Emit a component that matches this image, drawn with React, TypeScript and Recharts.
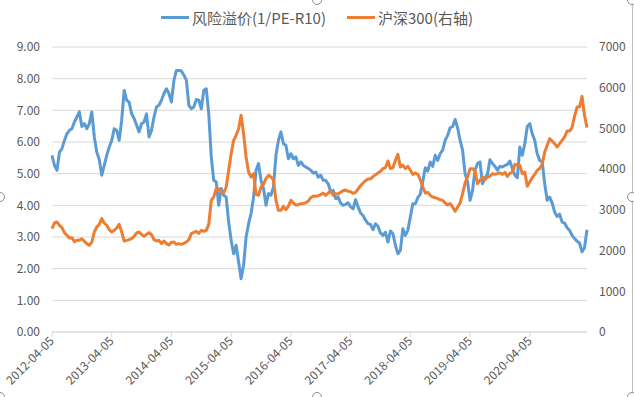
import { LineChart, Line, XAxis, YAxis, CartesianGrid, Legend } from 'recharts';

// semi-monthly sample dates, 2012-04 .. 2021-03
const dates: string[] = [];
for (let k = 0; k < 108; k++) {
  const y = 2012 + Math.floor((3 + k) / 12);
  const mm = String(((3 + k) % 12) + 1).padStart(2, '0');
  dates.push(`${y}-${mm}-05`, `${y}-${mm}-20`);
}

const yearTicks = [
  '2012-04-05', '2013-04-05', '2014-04-05', '2015-04-05', '2016-04-05',
  '2017-04-05', '2018-04-05', '2019-04-05', '2020-04-05',
];

const leftTicks = [0, 1, 2, 3, 4, 5, 6, 7, 8, 9];
const rightTicks = [0, 1000, 2000, 3000, 4000, 5000, 6000, 7000];

// 风险溢价 (1/PE-R10)
const riskPremium = [
  5.58, 5.26, 5.11, 5.68, 5.79, 6.05, 6.26, 6.37, 6.42, 6.63,
  6.79, 6.95, 6.49, 6.58, 6.42, 6.58, 6.95, 6.16, 5.68, 5.44,
  4.95, 5.26, 5.58, 5.84, 6.05, 6.42, 6.37, 6.05, 6.68, 7.63,
  7.32, 7.26, 6.89, 6.74, 6.53, 6.32, 6.58, 6.63, 6.89, 6.16,
  6.37, 6.79, 7.11, 7.16, 7.32, 7.53, 7.68, 7.53, 7.26, 7.95,
  8.26, 8.26, 8.24, 8.11, 7.95, 7.16, 7.05, 7.11, 7.34, 7.32,
  7.05, 7.63, 7.68, 6.89, 5.53, 4.79, 4.74, 4.0, 4.53, 4.32,
  4.26, 3.47, 2.89, 2.47, 2.74, 2.21, 1.68, 2.11, 3.0, 3.42,
  3.74, 4.26, 5.11, 5.32, 4.79, 4.53, 4.0, 4.37, 4.32, 4.58,
  5.58, 6.05, 6.32, 5.95, 5.89, 5.47, 5.63, 5.47, 5.53, 5.26,
  5.37, 5.26, 5.21, 5.16, 5.11, 5.02, 5.05, 4.89, 4.95, 4.79,
  4.79, 4.68, 4.42, 4.47, 4.21, 4.26, 4.07, 4.0, 4.03, 4.08,
  3.95, 3.89, 4.18, 3.95, 3.76, 3.68, 3.53, 3.42, 3.4, 3.23,
  3.42, 3.34, 3.13, 3.05, 3.15, 2.84, 3.19, 3.11, 2.74, 2.47,
  2.58, 3.26, 3.05, 3.21, 3.63, 4.05, 4.05, 4.24, 4.35, 4.74,
  5.19, 5.08, 5.37, 5.23, 5.58, 5.42, 5.63, 5.74, 6.05, 6.21,
  6.45, 6.49, 6.71, 6.45, 6.05, 5.74, 5.0, 4.74, 4.16, 4.47,
  5.11, 5.32, 5.37, 4.68, 4.87, 4.98, 5.44, 5.32, 5.23, 5.11,
  5.23, 5.21, 5.26, 5.29, 5.4, 5.16, 4.95, 4.87, 5.84, 5.58,
  5.95, 6.49, 6.58, 6.26, 6.05, 5.63, 5.42, 5.37, 4.68, 4.16,
  4.26, 4.07, 3.79, 3.65, 3.72, 3.47, 3.44, 3.29, 3.21, 3.05,
  2.95, 2.87, 2.81, 2.53, 2.66, 3.23,
];

// 沪深300 (右轴)
const csi300 = [
  2538, 2677, 2702, 2620, 2563, 2440, 2374, 2309, 2317, 2219,
  2251, 2251, 2292, 2227, 2170, 2129, 2210, 2456, 2579, 2644,
  2784, 2677, 2620, 2513, 2456, 2497, 2554, 2644, 2456, 2235,
  2251, 2268, 2292, 2350, 2432, 2456, 2399, 2350, 2399, 2440,
  2391, 2268, 2235, 2251, 2170, 2235, 2170, 2137, 2202, 2210,
  2153, 2170, 2153, 2178, 2210, 2268, 2415, 2448, 2472, 2423,
  2497, 2472, 2497, 2644, 3234, 3316, 3520, 3520, 3439, 3414,
  3561, 3971, 4380, 4708, 4830, 4994, 5322, 4871, 4298, 3930,
  3807, 3889, 3381, 3357, 3561, 3627, 3766, 3848, 3807, 3741,
  3234, 2988, 2988, 3086, 3005, 3086, 3234, 3168, 3119, 3127,
  3152, 3152, 3177, 3217, 3299, 3340, 3332, 3349, 3373, 3414,
  3357, 3414, 3463, 3357, 3398, 3390, 3430, 3471, 3488, 3455,
  3447, 3406, 3430, 3512, 3594, 3660, 3717, 3758, 3758, 3815,
  3864, 3905, 3946, 4012, 4036, 4200, 4012, 4036, 4216, 4364,
  4053, 4094, 4012, 4069, 3971, 3872, 3905, 3872, 3741, 3561,
  3414, 3430, 3357, 3316, 3299, 3275, 3250, 3234, 3168, 3119,
  3152, 3070, 2964, 3070, 3168, 3398, 3660, 3807, 4012, 4012,
  3954, 3643, 3725, 3807, 3741, 3807, 3823, 3889, 3872, 3889,
  3913, 3872, 3922, 3823, 3897, 3922, 4118, 4102, 4094, 3889,
  3930, 3578, 3684, 3790, 3872, 3971, 4020, 4118, 4421, 4585,
  4748, 4691, 4626, 4544, 4626, 4708, 4789, 4937, 4937, 5019,
  5297, 5526, 5526, 5788, 5322, 5019,
];

const data = dates.map((date, i) => ({ date, risk: riskPremium[i], csi: csi300[i] }));

const FONT = '"Noto Sans CJK SC", "Noto Sans", sans-serif';
const TEXT = '#595959';
const GRID = '#d9d9d9';

const RotatedTick = ({ x, y, payload }: any) => (
  <text
    x={x}
    y={y}
    dy={4}
    textAnchor="end"
    transform={`rotate(-45, ${x}, ${y})`}
    fill={TEXT}
    fontSize={12}
    fontFamily={FONT}
  >
    {payload.value}
  </text>
);

const legendItems = [
  { label: '风险溢价(1/PE-R10)', color: '#5B9BD5' },
  { label: '沪深300(右轴)', color: '#ED7D31' },
];

const TopLegend = () => (
  <div style={{ display: 'flex', justifyContent: 'center', alignItems: 'center', height: 30, fontFamily: FONT, fontSize: 15, color: TEXT }}>
    {legendItems.map((item, i) => (
      <div key={item.label} style={{ display: 'flex', alignItems: 'center', marginLeft: i ? 21 : 0 }}>
        <span style={{ display: 'inline-block', width: 28, height: 3, background: item.color, marginRight: 3 }} />
        <span>{item.label}</span>
      </div>
    ))}
  </div>
);

const handles = [
  [317, 0], [632, 0], [0, 197], [632, 197], [0, 397], [317, 397], [632, 397],
];

const App = () => {
  return (
    <div style={{ position: 'absolute', left: 0, top: 0, width: 634, height: 397, background: '#fff' }}>
      <LineChart width={634} height={397} data={data} margin={{ top: 17, right: 0, bottom: 5, left: 8 }}>
        <CartesianGrid yAxisId="left" vertical={false} stroke={GRID} />
        <XAxis
          dataKey="date"
          ticks={yearTicks}
          interval={0}
          height={60}
          tick={<RotatedTick />}
          tickSize={5}
          tickLine={{ stroke: GRID }}
          axisLine={{ stroke: GRID }}
        />
        <YAxis
          yAxisId="left"
          domain={[0, 9]}
          ticks={leftTicks}
          tickFormatter={(v: number) => v.toFixed(2)}
          width={44}
          axisLine={false}
          tickLine={false}
          tickSize={0}
          tickMargin={12}
          tick={{ fill: TEXT, fontSize: 12, fontFamily: FONT }}
        />
        <YAxis
          yAxisId="right"
          orientation="right"
          domain={[0, 7000]}
          ticks={rightTicks}
          width={47}
          axisLine={false}
          tickLine={false}
          tickSize={0}
          tickMargin={12}
          tick={{ fill: TEXT, fontSize: 12, fontFamily: FONT }}
        />
        <Legend verticalAlign="top" wrapperStyle={{ top: 2, left: 0, width: 634 }} content={<TopLegend />} />
        <Line yAxisId="left" dataKey="risk" stroke="#5B9BD5" strokeWidth={3} strokeLinejoin="round" dot={false} isAnimationActive={false} />
        <Line yAxisId="right" dataKey="csi" stroke="#ED7D31" strokeWidth={3} strokeLinejoin="round" dot={false} isAnimationActive={false} />
      </LineChart>
      <svg width={634} height={397} style={{ position: 'absolute', left: 0, top: 0, pointerEvents: 'none' }}>
        <line x1={632.5} y1={0} x2={632.5} y2={397} stroke="#bfbfbf" />
        {handles.map(([cx, cy]) => (
          <circle key={`${cx}-${cy}`} cx={cx} cy={cy} r={4.5} fill="#fff" stroke="#8c8c8c" />
        ))}
      </svg>
    </div>
  );
};

export default App;
